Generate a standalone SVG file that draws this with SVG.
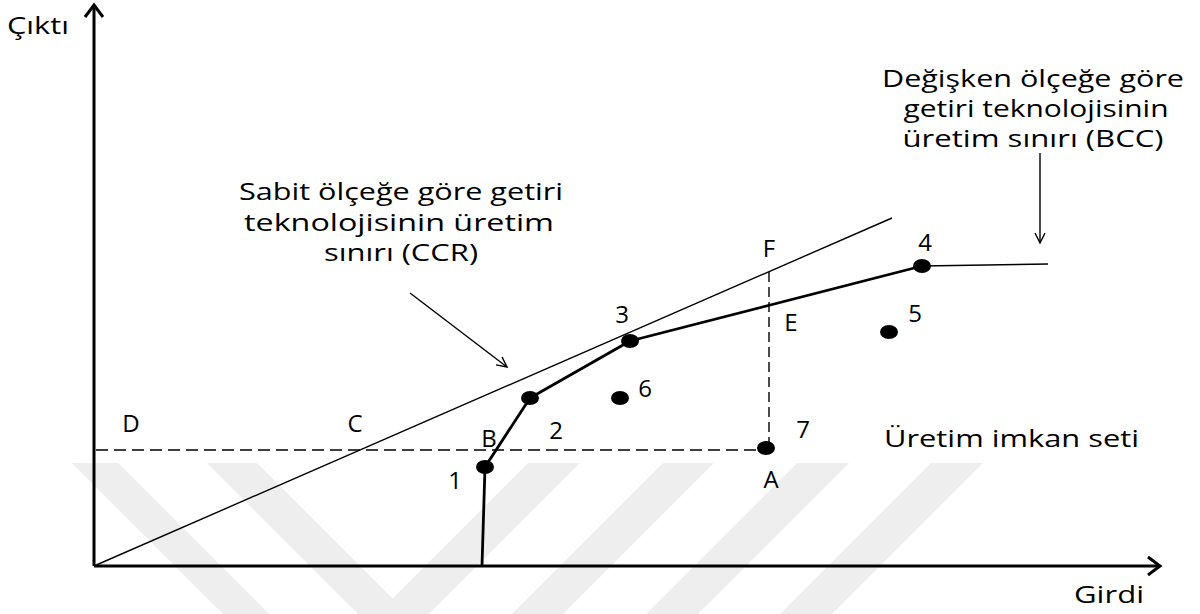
<svg xmlns="http://www.w3.org/2000/svg" width="1200" height="614" viewBox="0 0 1200 614">
<style>
text{font-family:"Open Sans","Liberation Sans",sans-serif;fill:#000}
.t{font-size:24px}
.l{font-size:24px;text-anchor:middle}
.c{text-anchor:middle}
.wm{fill:#eeeeee}
.axis{stroke:#000;stroke-width:3;fill:none}
.thin{stroke:#000;stroke-width:1.4;fill:none}
.thick{stroke:#000;stroke-width:2.8;fill:none;stroke-linejoin:round}
.dash{stroke:#000;stroke-width:1.4;fill:none;stroke-dasharray:12 6}
.vdash{stroke:#000;stroke-width:1.4;fill:none;stroke-dasharray:10 5}
.pt{fill:#000}
</style>
<defs>
<marker id="ax" viewBox="0 0 14 20" refX="12" refY="9" markerWidth="14" markerHeight="20" markerUnits="userSpaceOnUse" orient="auto" overflow="visible">
<path d="M0,0 L12,9 L0,18" fill="none" stroke="#000" stroke-width="3"/>
</marker>
<marker id="ar" viewBox="0 0 11 11" refX="10" refY="5" markerWidth="11" markerHeight="11" markerUnits="userSpaceOnUse" orient="auto" overflow="visible">
<path d="M0,0 L10,5 L0,10" fill="none" stroke="#000" stroke-width="1.4"/>
</marker>
</defs>
<rect width="1200" height="614" fill="#fff"/>
<g id="watermark">
<polygon class="wm" points="72,463 118,463 269,614 223,614"/>
<polygon class="wm" points="207,463 257,463 408,614 358,614"/>
<polygon class="wm" points="528,463 580,463 429,614 377,614"/>
<polygon class="wm" points="663,463 714,463 563,614 512,614"/>
<polygon class="wm" points="797,463 849,463 698,614 646,614"/>
<polygon class="wm" points="931,463 983,463 832,614 780,614"/>
</g>
<g id="connectors">
<line id="y-axis" class="axis" x1="94" y1="566" x2="94" y2="5" marker-end="url(#ax)"/>
<line id="x-axis" class="axis" x1="94" y1="566" x2="1160" y2="566" marker-end="url(#ax)"/>
<line id="ccr" class="thin" x1="94" y1="566" x2="892" y2="218"/>
<line id="dash-h" class="dash" x1="96" y1="450" x2="766" y2="450"/>
<line id="dash-v" class="vdash" x1="769" y1="272" x2="769" y2="448"/>
<polyline id="bcc" class="thick" points="482,566 485,467 530,398 630,341 922,266"/>
<line id="bcc-tail" class="thin" x1="922" y1="266" x2="1048" y2="264"/>
<line id="ccr-arrow" class="thin" x1="410" y1="293" x2="507" y2="367" marker-end="url(#ar)"/>
<line id="bcc-arrow" class="thin" x1="1040" y1="153" x2="1040" y2="243" marker-end="url(#ar)"/>
</g>
<g id="p1"><ellipse class="pt" cx="485" cy="467" rx="9" ry="7"/><text class="l" x="455" y="489">1</text></g>
<g id="p2"><ellipse class="pt" cx="530" cy="398" rx="9" ry="7"/><text class="l" x="556" y="439">2</text></g>
<g id="p3"><ellipse class="pt" cx="630" cy="341" rx="9" ry="7"/><text class="l" x="622" y="323">3</text></g>
<g id="p4"><ellipse class="pt" cx="922" cy="266" rx="9" ry="7"/><text class="l" x="925" y="251">4</text></g>
<g id="p5"><ellipse class="pt" cx="889" cy="332" rx="9" ry="7"/><text class="l" x="915" y="322">5</text></g>
<g id="p6"><ellipse class="pt" cx="620" cy="398" rx="9" ry="7"/><text class="l" x="645" y="397">6</text></g>
<g id="p7"><ellipse class="pt" cx="766" cy="448" rx="9" ry="7"/><text class="l" x="803" y="438">7</text></g>
<g id="lbl-A"><text class="l" x="771" y="488">A</text></g>
<g id="lbl-B"><text class="l" x="489" y="447">B</text></g>
<g id="lbl-C"><text class="l" x="355" y="432">C</text></g>
<g id="lbl-D"><text class="l" x="131" y="432">D</text></g>
<g id="lbl-E"><text class="l" x="791" y="331">E</text></g>
<g id="lbl-F"><text class="l" x="769" y="257">F</text></g>
<g id="lbl-cikti"><text class="t" x="7" y="34" textLength="62" lengthAdjust="spacingAndGlyphs">Çıktı</text></g>
<g id="lbl-girdi"><text class="t" x="1074" y="603" textLength="70" lengthAdjust="spacingAndGlyphs">Girdi</text></g>
<g id="lbl-set"><text class="t" x="884" y="447" textLength="255" lengthAdjust="spacingAndGlyphs">Üretim imkan seti</text></g>
<g id="lbl-bcc">
<text class="t c" x="1033" y="87" textLength="302" lengthAdjust="spacingAndGlyphs">Değişken ölçeğe göre</text>
<text class="t c" x="1036" y="117" textLength="265" lengthAdjust="spacingAndGlyphs">getiri teknolojisinin</text>
<text class="t c" x="1033" y="147" textLength="261" lengthAdjust="spacingAndGlyphs">üretim sınırı (BCC)</text>
</g>
<g id="lbl-ccr">
<text class="t c" x="401" y="200" textLength="324" lengthAdjust="spacingAndGlyphs">Sabit ölçeğe göre getiri</text>
<text class="t c" x="399" y="231" textLength="310" lengthAdjust="spacingAndGlyphs">teknolojisinin üretim</text>
<text class="t c" x="401" y="261" textLength="154" lengthAdjust="spacingAndGlyphs">sınırı (CCR)</text>
</g>
</svg>
